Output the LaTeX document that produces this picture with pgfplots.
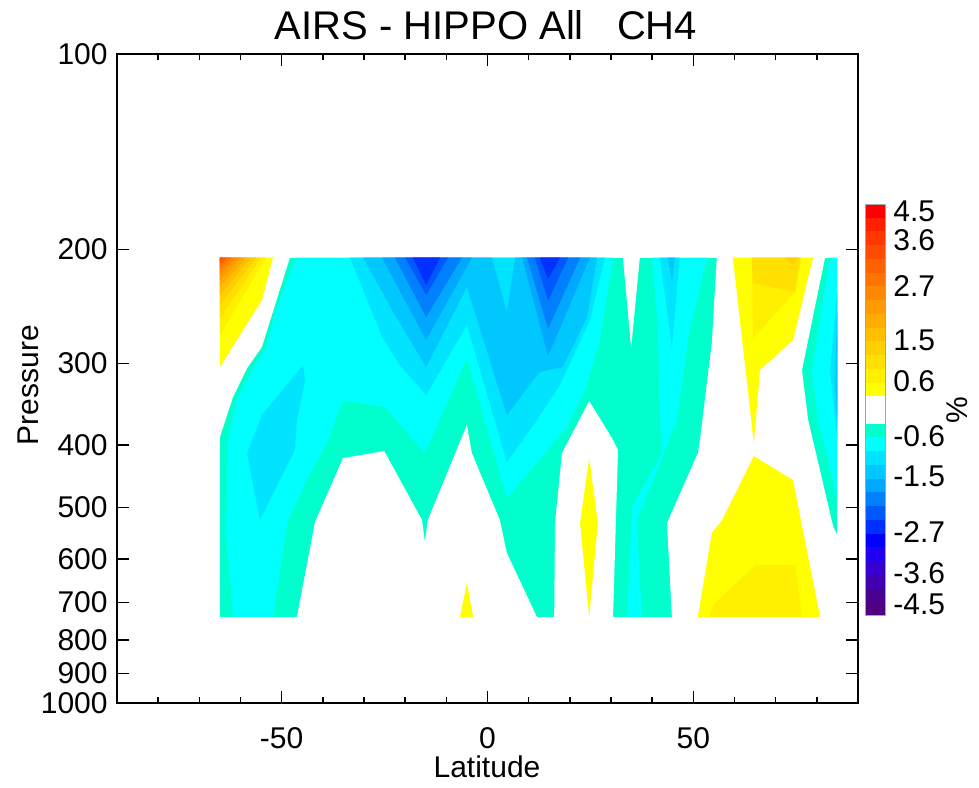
\documentclass[border=0pt]{standalone}
\usepackage{fontspec}
\setmainfont{Liberation Sans}
\usepackage{pgfplots}
\pgfplotsset{compat=1.18}
\definecolor{aq}{RGB}{0,255,204}
\definecolor{cy}{RGB}{0,255,255}
\definecolor{n09}{RGB}{0,228,255}
\definecolor{n12}{RGB}{0,200,255}
\definecolor{n15}{RGB}{0,168,255}
\definecolor{n18}{RGB}{0,128,255}
\definecolor{n21}{RGB}{0,88,255}
\definecolor{n24}{RGB}{0,48,255}
\definecolor{n27}{RGB}{0,0,255}
\definecolor{n30}{RGB}{32,0,240}
\definecolor{n33}{RGB}{56,0,208}
\definecolor{n36}{RGB}{64,0,176}
\definecolor{n39}{RGB}{72,0,144}
\definecolor{n42}{RGB}{80,0,128}
\definecolor{p03}{RGB}{255,255,0}
\definecolor{p06}{RGB}{255,240,0}
\definecolor{p09}{RGB}{255,224,0}
\definecolor{p12}{RGB}{255,208,0}
\definecolor{p15}{RGB}{255,190,0}
\definecolor{p18}{RGB}{255,172,0}
\definecolor{p21}{RGB}{255,154,0}
\definecolor{p24}{RGB}{255,136,0}
\definecolor{p27}{RGB}{255,116,0}
\definecolor{p30}{RGB}{255,96,0}
\definecolor{p33}{RGB}{255,76,0}
\definecolor{p36}{RGB}{255,56,0}
\definecolor{p39}{RGB}{255,32,0}
\definecolor{p42}{RGB}{255,0,0}
\newcommand\band[3]{\addplot[fill=#3,draw=none] coordinates {(0,#1) (1,#1) (1,#2) (0,#2)} -- cycle;}
\newcommand\poly[2]{\addplot[fill=#1,draw=none] coordinates {#2} -- cycle;}
\begin{document}
\begin{tikzpicture}
\useasboundingbox (0,0) rectangle (489.5pt,393.5pt);
\begin{axis}[
  at={(58.5pt,42pt)}, anchor=south west, scale only axis,
  width=370.5pt, height=324.5pt,
  xmin=-90, xmax=90, ymode=log, ymin=100, ymax=1000, y dir=reverse,
  xtick={-50,0,50}, xticklabels={-50,0,50},
  minor xtick={-80,-70,-60,-40,-30,-20,-10,10,20,30,40,60,70,80},
  ytick={100,200,300,400,500,600,700,800,900,1000},
  yticklabels={100,200,300,400,500,600,700,800,900,1000},
  yminorticks=false,
  tick style={black, line width=0.8pt},
  major tick length=6pt, minor tick length=3pt,
  axis line style={line width=0.8pt},
  axis on top,
  ticklabel style={font=\fontsize{15}{18}\selectfont, inner sep=0pt},
  xticklabel style={yshift=-12pt},
  yticklabel style={xshift=-4.5pt},
]
% base: v < -0.3
\poly{aq}{(-65,206) (85,206) (85,737) (-65,737)}
% white areas (v > -0.3)
\poly{white}{(-65,206) (-48,206) (-54.8,282.8) (-58.4,304.8) (-61.8,337.6) (-65,389.2)}
\poly{white}{(-46.3,737) (-41.9,526.1) (-35.1,419.4) (-25.1,409.0) (-15.9,522.4) (-15.2,564.9) (-14.5,522.4) (-5,372.9) (-3.8,412.0) (3.0,522.4) (4.7,587.3) (12.0,737)}
\poly{white}{(24.7,342.5) (30.5,393.4) (31.7,407.6) (30.5,737) (16.2,737) (16.4,528.1) (18.1,411.9)}
\poly{white}{(32.9,206) (37.0,206) (34.9,283.8)}
\poly{white}{(55.7,206) (82.0,206) (76.4,306.9) (77.9,366.4) (84.0,535.6) (85,551.0) (85,737) (44.8,737) (43.6,528.1) (51.1,411.9) (51.6,393.4) (54.5,278.8)}
% positive areas
\poly{p03}{(-65,206) (-52.1,206) (-54.8,239.4) (-65,303.7)}
\poly{p06}{(-65,206) (-53.8,206) (-65,271.0)}
\poly{p09}{(-65,206) (-55.0,206) (-65,255.2)}
\poly{p12}{(-65,206) (-56.2,206) (-65,243.7)}
\poly{p15}{(-65,206) (-57.4,206) (-65,235.2)}
\poly{p18}{(-65,206) (-58.7,206) (-65,228.6)}
\poly{p21}{(-65,206) (-59.9,206) (-65,223.0)}
\poly{p24}{(-65,206) (-61.1,206) (-65,218.3)}
\poly{p27}{(-65,206) (-62.3,206) (-65,214.4)}
\poly{p30}{(-65,206) (-63.3,206) (-65,211.4)}
\poly{p33}{(-65,206) (-64.3,206) (-65,208.4)}
\poly{p03}{(-6.7,737) (-5,653.4) (-3.5,737)}
\poly{p03}{(24.7,419.4) (26.8,528.1) (24.7,737) (22.5,528.1)}
\poly{p03}{(59.6,206) (79.1,206) (74.2,275.9) (66.2,306.9) (64.7,397.6)}
\poly{p06}{(64.2,206) (76.4,206) (74.7,232.7) (64.5,274.0)}
\poly{p09}{(64.2,206) (75.9,206) (74.7,232.7) (64.5,225.4)}
\poly{p12}{(72.3,206) (75.4,206) (74.2,211.4)}
\poly{p03}{(64.7,416.4) (74.2,453.4) (80.8,737) (51.1,737) (54.5,547.1) (57.0,522.4)}
\poly{p06}{(54.0,737) (54.8,706.4) (65.0,612.8) (74.7,612.8) (76.4,737)}
% v < -0.6
\poly{cy}{(-46.5,206) (30.5,206) (27.3,275.9) (23.7,329.4) (19.3,375.6) (4.7,483.3) (-5,294.1) (-15.2,412.0) (-24.9,349.9) (-35.1,341.3) (-38.7,393.4) (-43.1,442.2) (-48.5,522.4) (-52.1,737) (-61.8,737) (-63.5,541.3) (-63.0,393.4) (-60.9,341.3) (-57.2,306.9) (-53.8,283.8) (-51.4,248.0)}
\poly{cy}{(40.0,206) (53.3,206) (49.1,266.3) (46.0,366.4) (43.1,407.6) (36.3,522.4) (37.5,737) (33.9,737) (35.1,498.9) (42.4,411.9) (41.9,366.4) (41.4,266.3)}
\poly{cy}{(83.2,206) (85,206) (85,486.7) (80.3,366.4) (78.8,306.9)}
% v < -0.9
\poly{n09}{(-44.8,301.5) (-44.3,318.0) (-46.3,366.4) (-46.8,407.6) (-55.3,522.4) (-58.4,411.9) (-54.8,360.0)}
\poly{n09}{(-33.4,206) (28.5,206) (24.9,257.0) (17.6,323.6) (12.0,366.4) (4.7,425.4) (-5,261.6) (-14.9,335.3) (-21.3,301.5) (-25.6,273.0)}
\poly{n09}{(41.9,206) (46.7,206) (44.8,283.8)}
\poly{n09}{(85,231.1) (83.2,306.9) (85,393.4)}
% v < -1.2
\poly{n12}{(-30.2,206) (1.1,206) (4.7,249.8) (6.7,206) (26.6,206) (24.2,254.3) (18.3,303.7) (12.7,309.0) (4.7,360.0) (-5,228.6) (-14.9,303.7) (-22.5,252.5)}
\poly{n12}{(43.8,206) (45.5,206) (44.8,224.5)}
\poly{n12}{(85,250) (84.3,318) (85,366)}
% v < -1.5
\poly{n15}{(-25.6,206) (-3.8,206) (-14.9,275.9)}
\poly{n15}{(8.4,206) (24.9,206) (14.7,292.0)}
% v < -1.8
\poly{n18}{(-22.5,206) (-6.2,206) (-14.9,254.3)}
\poly{n18}{(9.6,206) (22.5,206) (14.7,265.0)}
% v < -2.1
\poly{n21}{(-20.0,206) (-9.6,206) (-14.9,235.2)}
\poly{n21}{(11.5,206) (19.6,206) (14.7,240.0)}
% v < -2.4
\poly{n24}{(-18.1,206) (-11.5,206) (-14.9,226.9)}
\poly{n24}{(12.7,206) (17.6,206) (14.7,222.0)}
\end{axis}
% colour bar
\begin{axis}[
  at={(432.5pt,85.5pt)}, anchor=south west, scale only axis,
  width=10pt, height=206pt,
  xmin=0, xmax=1, ymin=-4.5, ymax=4.5,
  xtick=\empty,
  ytick={4.347,3.714,2.709,1.529,0.633,-0.568,-1.442,-2.665,-3.561,-4.238},
  yticklabels={4.5,3.6,2.7,1.5,0.6,-0.6,-1.5,-2.7,-3.6,-4.5},
  yticklabel pos=right,
  major tick length=0pt,
  axis line style={gray!70, line width=0.5pt},
  axis on top,
  yticklabel style={font=\fontsize{15}{18}\selectfont, inner sep=0pt, anchor=west, xshift=4pt},
]
\band{-4.5}{-4.2}{n42}\band{-4.2}{-3.9}{n39}\band{-3.9}{-3.6}{n36}\band{-3.6}{-3.3}{n33}
\band{-3.3}{-3.0}{n30}\band{-3.0}{-2.7}{n27}\band{-2.7}{-2.4}{n24}\band{-2.4}{-2.1}{n21}
\band{-2.1}{-1.8}{n18}\band{-1.8}{-1.5}{n15}\band{-1.5}{-1.2}{n12}\band{-1.2}{-0.9}{n09}
\band{-0.9}{-0.6}{cy}\band{-0.6}{-0.3}{aq}\band{-0.3}{0.3}{white}
\band{0.3}{0.6}{p03}\band{0.6}{0.9}{p06}\band{0.9}{1.2}{p09}\band{1.2}{1.5}{p12}
\band{1.5}{1.8}{p15}\band{1.8}{2.1}{p18}\band{2.1}{2.4}{p21}\band{2.4}{2.7}{p24}
\band{2.7}{3.0}{p27}\band{3.0}{3.3}{p30}\band{3.3}{3.6}{p33}\band{3.6}{3.9}{p36}
\band{3.9}{4.2}{p39}\band{4.2}{4.5}{p42}
\end{axis}
\node[anchor=base, font=\fontsize{20}{24}\selectfont] at (243pt,373.5pt) {AIRS - HIPPO All\ \ \ CH4};
\node[anchor=base, font=\fontsize{15}{18}\selectfont] at (243.5pt,5pt) {Latitude};
\node[anchor=base, rotate=90, font=\fontsize{15}{18}\selectfont] at (19pt,201pt) {Pressure};
\node[rotate=90, font=\fontsize{15}{18}\selectfont] at (478.5pt,188.5pt) {\%};
\end{tikzpicture}
\end{document}
